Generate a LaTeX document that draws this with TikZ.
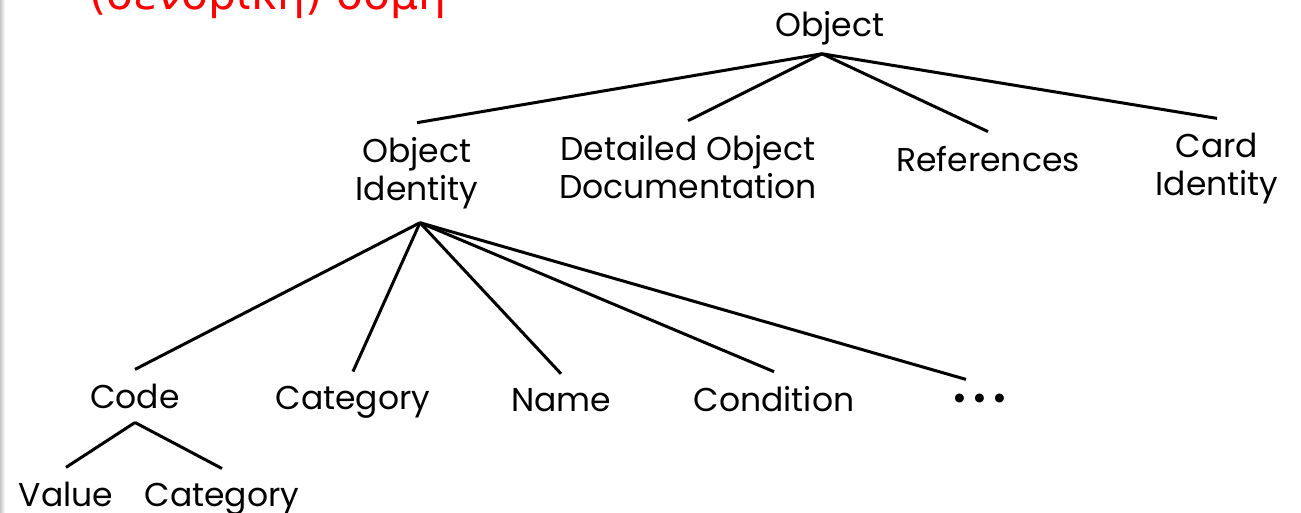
\documentclass[tikz,border=0pt]{standalone}
\usepackage{fontspec}
\setmainfont{Poppins}
\newfontfamily\greekfont{DejaVu Sans}

\begin{document}
\begin{tikzpicture}[x=1pt,y=-1pt,
  every node/.style={font=\fontsize{33}{38}\selectfont, inner xsep=0pt, inner ysep=14pt, align=center},
  branch/.style={line width=3pt}]
  \useasboundingbox (0,0) rectangle (1301,512);
  \shade[left color=gray!45, right color=white] (0,0) rectangle (5,512);

  % title, cut off at the top
  \node[anchor=base west, text=red, inner sep=0pt, font=\greekfont\fontsize{44}{48}\selectfont] (title) at (89,9) {(δενδρική) δομή};

  % root and first level
  \node[anchor=base, inner ysep=9pt] (obj) at (830,36) {Object};
  \node[anchor=base] (oid) at (417,200) {Object\\Identity};
  \node[anchor=base] (doc) at (688,198) {Detailed Object\\Documentation};
  \node[anchor=base] (refs) at (988,171) {References};
  \node[anchor=base] (card) at (1217,195) {Card\\Identity};

  % second level
  \node[anchor=base] (code) at (135,408) {Code};
  \node[anchor=base] (cat) at (353,409) {Category};
  \node[anchor=base] (name) at (561,411) {Name};
  \node[anchor=base] (cond) at (774,411) {Condition};
  \node[anchor=base, font=\fontsize{36}{36}\selectfont] (more) at (980,410) {•\kern5pt•\kern5pt•};

  % third level
  \node[anchor=base] (val) at (66,506) {Value};
  \node[anchor=base] (catb) at (222,506) {Category};

  \foreach \c in {oid,doc,refs,card}
    \draw[branch] ([xshift=-8pt]obj.south) -- (\c.north);
  \foreach \c in {code,cat,name,cond}
    \draw[branch] ([xshift=3pt]oid.south) -- (\c.north);
  \draw[branch] ([xshift=3pt]oid.south) -- ([xshift=-14pt]more.north);
  \foreach \c in {val,catb}
    \draw[branch] (code.south) -- (\c.north);
\end{tikzpicture}
\end{document}
